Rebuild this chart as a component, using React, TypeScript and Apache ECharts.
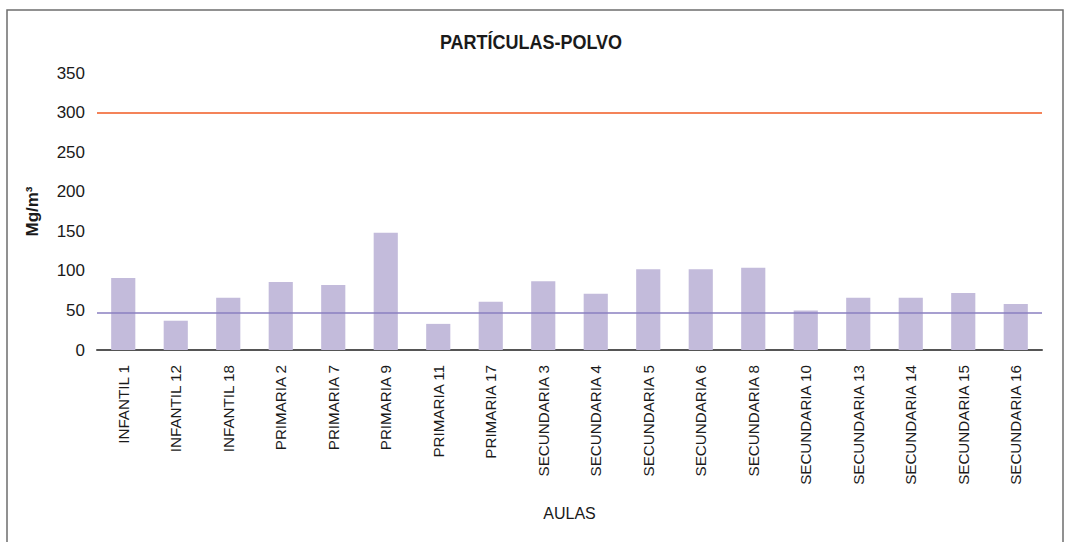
import React, { useEffect, useRef } from "react";
import * as echarts from "echarts";

const categories = [
  "INFANTIL 1", "INFANTIL 12", "INFANTIL 18", "PRIMARIA 2", "PRIMARIA 7", "PRIMARIA 9",
  "PRIMARIA 11", "PRIMARIA 17", "SECUNDARIA 3", "SECUNDARIA 4", "SECUNDARIA 5", "SECUNDARIA 6",
  "SECUNDARIA 8", "SECUNDARIA 10", "SECUNDARIA 13", "SECUNDARIA 14", "SECUNDARIA 15", "SECUNDARIA 16",
];
const values = [91, 37, 66, 86, 82, 148, 33, 61, 87, 71, 102, 102, 104, 50, 66, 66, 72, 58];
const upperLimit = 300;
const lowerLimit = 47;
const yTicks = { min: 0, max: 350, interval: 50 };
const titleText = "PARTÍCULAS-POLVO";

export default function App() {
  const ref = useRef<HTMLDivElement>(null);
  useEffect(() => {
    if (!ref.current) return;
    const chart = echarts.init(ref.current, undefined, { renderer: "svg" });
    chart.setOption({
      animation: false,
      backgroundColor: "#ffffff",
      graphic: [
        {
          type: "rect",
          shape: { x: 7, y: 10, width: 1056, height: 545 },
          style: { fill: "none", stroke: "#6e6e6e", lineWidth: 1.5 },
          silent: true,
        },
        {
          type: "text",
          x: 531,
          y: 42,
          scaleX: 0.9,
          style: {
            text: titleText,
            textAlign: "center",
            textVerticalAlign: "middle",
            fontFamily: "'Liberation Sans', Arial, sans-serif",
            fontWeight: "bold",
            fontSize: 20,
            fill: "#1a1a1a",
          },
          silent: true,
        },
      ],
      grid: { left: 97, right: 24, top: 73, bottom: 192, containLabel: false },
      xAxis: {
        type: "category",
        data: categories,
        name: "AULAS",
        nameLocation: "middle",
        nameGap: 155,
        nameTextStyle: {
          fontFamily: "'Liberation Sans', Arial, sans-serif",
          fontSize: 16,
          color: "#1a1a1a",
        },
        axisTick: { show: false },
        axisLine: { lineStyle: { color: "#555555", width: 2 } },
        axisLabel: {
          interval: 0,
          rotate: 90,
          margin: 15,
          fontFamily: "'Liberation Sans', Arial, sans-serif",
          fontSize: 15.2,
          color: "#1a1a1a",
        },
      },
      yAxis: {
        type: "value",
        min: yTicks.min,
        max: yTicks.max,
        interval: yTicks.interval,
        name: "Mg/m³",
        nameLocation: "middle",
        nameRotate: 90,
        nameGap: 56,
        nameTextStyle: {
          fontFamily: "'Liberation Sans', Arial, sans-serif",
          fontWeight: "bold",
          fontSize: 17,
          color: "#1a1a1a",
        },
        axisLine: { show: false },
        axisTick: { show: false },
        splitLine: { show: false },
        axisLabel: {
          margin: 12,
          fontFamily: "'Liberation Sans', Arial, sans-serif",
          fontSize: 17,
          color: "#1a1a1a",
        },
      },
      series: [
        {
          type: "bar",
          data: values,
          barWidth: "46%",
          itemStyle: { color: "#c3bbdb" },
          markLine: {
            silent: true,
            symbol: "none",
            label: { show: false },
            data: [
              { yAxis: upperLimit, lineStyle: { color: "#f15a22", width: 1.5, type: "solid" } },
              { yAxis: lowerLimit, lineStyle: { color: "#8a7fc0", width: 1.5, type: "solid" } },
            ],
          },
        },
      ],
    });
    return () => chart.dispose();
  }, []);
  return (
    <div
      ref={ref}
      style={{ position: "fixed", left: 0, top: 0, width: 1066, height: 542 }}
    />
  );
}
